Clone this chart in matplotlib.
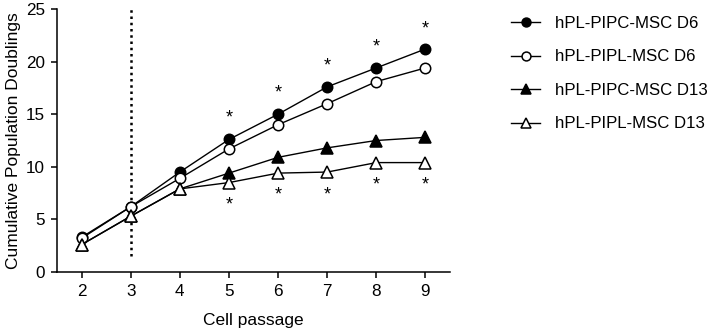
import matplotlib
matplotlib.use("Agg")
import matplotlib.pyplot as plt

plt.rcParams['font.family'] = ['Liberation Sans', 'DejaVu Sans']

passages = [2, 3, 4, 5, 6, 7, 8, 9]
pipc_d6 = [3.3, 6.2, 9.5, 12.6, 15.0, 17.6, 19.4, 21.2]
pipl_d6 = [3.2, 6.2, 8.9, 11.7, 14.0, 16.0, 18.1, 19.4]
pipc_d13 = [2.6, 5.3, 7.9, 9.4, 10.9, 11.8, 12.5, 12.8]
pipl_d13 = [2.6, 5.3, 7.9, 8.5, 9.4, 9.5, 10.4, 10.4]

star_x = [5, 6, 7, 8, 9]
star_top = [14.6, 17.0, 19.6, 21.4, 23.1]
star_bottom = [6.4, 7.3, 7.3, 8.3, 8.3]

labels = ["hPL-PIPC-MSC D6", "hPL-PIPL-MSC D6", "hPL-PIPC-MSC D13", "hPL-PIPL-MSC D13"]

fig = plt.figure(figsize=(7.17, 3.33), dpi=100)
ax = fig.add_axes([57/717, 61/333, (450-57)/717, (272-9)/333])

ax.plot([3, 3], [1.5, 25], color='black', linestyle=(0, (1, 1.5)), lw=1.8, zorder=1)

series = [
    (pipc_d6, 'o', 'black'),
    (pipl_d6, 'o', 'white'),
    (pipc_d13, '^', 'black'),
    (pipl_d13, '^', 'white'),
]
handles = []
for (vals, m, fc), lab in zip(series, labels):
    ms = 7.5 if m == 'o' else 8.3
    l, = ax.plot(passages, vals, color='black', lw=1.0, marker=m, markersize=ms,
                 markerfacecolor=fc, markeredgecolor='black', markeredgewidth=1.1,
                 label=lab, zorder=3)
    handles.append(l)

for x, y in zip(star_x, star_top):
    ax.text(x, y, '*', ha='center', va='center', fontsize=13)
for x, y in zip(star_x, star_bottom):
    ax.text(x, y, '*', ha='center', va='center', fontsize=13)

ax.set_xlim(1.5, 9.5)
ax.set_ylim(0, 25)
ax.set_xticks(passages)
ax.set_yticks([0, 5, 10, 15, 20, 25])
ax.tick_params(axis='both', labelsize=12.3, width=1.1, length=4.5, direction='out', pad=4)
for s in ['top', 'right']:
    ax.spines[s].set_visible(False)
for s in ['left', 'bottom']:
    ax.spines[s].set_linewidth(1.1)
ax.set_ylabel('Cumulative Population Doublings', fontsize=12.5, labelpad=4)
ax.set_xlabel('Cell passage', fontsize=12.5, labelpad=10)

fig.legend(handles=handles, labels=labels, loc='upper left', bbox_to_anchor=(511/717, 1 - 16/333),
           frameon=False, fontsize=12.1, handlelength=1.75, labelspacing=1.1, handletextpad=0.85,
           borderpad=0, borderaxespad=0, markerscale=0.85)

fig.savefig('out.png', dpi=100)
